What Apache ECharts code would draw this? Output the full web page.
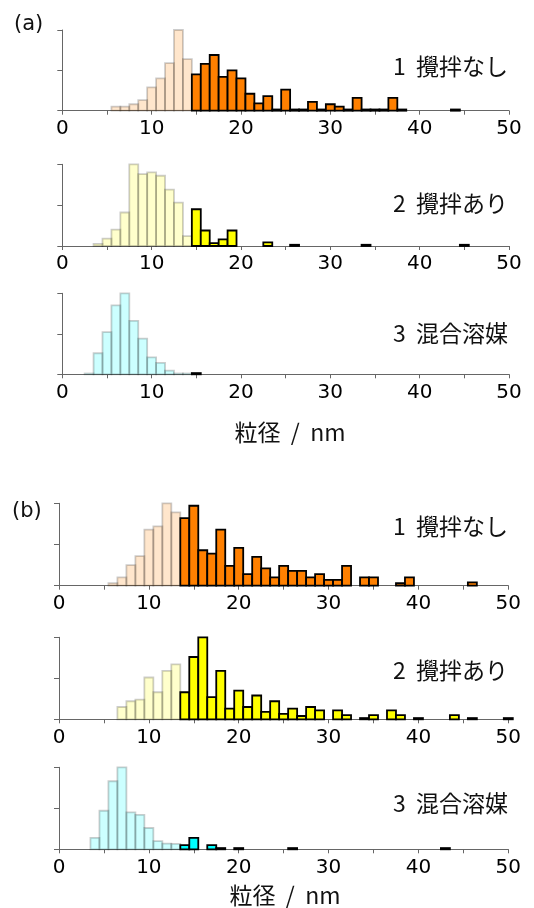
<!DOCTYPE html>
<html>
<head>
<meta charset="utf-8">
<script src="https://cdn.jsdelivr.net/npm/echarts@6/dist/echarts.min.js"></script>
<style>
  html, body { margin: 0; padding: 0; background: #fff; }
  #main { width: 534px; height: 908px; }
</style>
</head>
<body>
<div id="main"></div>
<script>
// particle size bins (nm) and relative frequency (peak = 100)
const sizesA1 = [6,7,8,9,10,11,12,13,14,15,16,17,18,19,20,21,22,23,24,25,26,27,28,29,30,31,32,33,34,35,36,37,38,44]
const freqA1  = [5,5,8,13,29,40,59,100,64,45,58,69,42,50,40,21,9,18,1.5,26,1.5,1.5,11,1.5,8,5,1.5,16,1.5,1.5,1.5,16,1.5,1.5]

const sizesA2 = [4,5,6,7,8,9,10,11,12,13,14,15,16,17,18,19,23,26,34,45]
const freqA2  = [2.5,9,20,41,100,88,90,86,69,53,12,45,19,3.5,8,19,4.5,1.5,1.5,1.5]

const sizesA3 = [3,4,5,6,7,8,9,10,11,12,13,14,15]
const freqA3  = [1,26,52,85,100,66,44,21,14,4.5,1,1,1.5]

const sizesB1 = [6,7,8,9,10,11,12,13,14,15,16,17,18,19,20,21,22,23,24,25,26,27,28,29,30,31,32,34,35,38,39,46]
const freqB1  = [3,10,25,36,68,72,100,89,82,97,43,39,68,24,46,14,35,21,10,24,18,18,10,14,7,7,24,10,10,3,10,4]

const sizesB2 = [7,8,9,10,11,12,13,14,15,16,17,18,19,20,21,22,23,24,25,26,27,28,29,31,32,34,35,37,38,40,44,46,50]
const freqB2  = [15,22,24,51,33,59,67,33,76,100,27,59,13,35,15,29,9,22,6.5,13,4,15,11,11,5,1.5,5,11,5,1.5,5,1.5,1.5]

const sizesB3 = [4,5,6,7,8,9,10,11,12,13,14,15,17,18,20,26,43]
const freqB3  = [14,47,83,100,45,42,26,10,7,6.5,5,14,5,1.5,1.5,1.5,1.5]

const sampleNames = ['1  攪拌なし', '2  攪拌あり', '3  混合溶媒']
const tickValues = [0, 10, 20, 30, 40, 50]
const axisTitle = '粒径  /  nm'

// first size drawn in full colour: (a) from 15 nm, (b) from 14 nm
const cutA = 15
const cutB = 14

const colors = ['#ff8000', '#ffff00', '#00ffff']

const panels = [
    { sizes: sizesA1, freq: freqA1, cut: cutA, color: colors[0], name: sampleNames[0], left: 62.3, right: 509, top: 30, bottom: 110.7 },
    { sizes: sizesA2, freq: freqA2, cut: cutA, color: colors[1], name: sampleNames[1], left: 62.3, right: 509, top: 164.3, bottom: 246 },
    { sizes: sizesA3, freq: freqA3, cut: cutA, color: colors[2], name: sampleNames[2], left: 62.3, right: 509, top: 293.3, bottom: 374.3 },
    { sizes: sizesB1, freq: freqB1, cut: cutB, color: colors[0], name: sampleNames[0], left: 59, right: 508.3, top: 503.3, bottom: 585.7 },
    { sizes: sizesB2, freq: freqB2, cut: cutB, color: colors[1], name: sampleNames[1], left: 59, right: 508.3, top: 637.3, bottom: 719.3 },
    { sizes: sizesB3, freq: freqB3, cut: cutB, color: colors[2], name: sampleNames[2], left: 59, right: 508.3, top: 767.3, bottom: 849.3 }
]
const labelY = [66.7, 203.3, 333.3, 526.7, 670, 803.3]

const axisGrey = '#666'
const latin = 'DejaVu Sans'
const cjk = '"Noto Sans CJK JP", sans-serif'

// one histogram bin = rect from size-0.5 to size+0.5
function binRenderer(fill, faded) {
    return function (params, api) {
        var s = api.value(0), v = api.value(1)
        var p0 = api.coord([s - 0.5, 0])
        var p1 = api.coord([s + 0.5, v])
        return {
            type: 'rect',
            shape: { x: p0[0], y: p1[1], width: p1[0] - p0[0], height: p0[1] - p1[1] },
            style: faded
                ? { fill: fill, stroke: '#000', lineWidth: 1.8, opacity: 0.2 }
                : { fill: fill, stroke: '#000', lineWidth: 1.8 }
        }
    }
}

var grid = [], xAxis = [], yAxis = [], series = [], graphic = []

panels.forEach(function (p, i) {
    grid.push({ left: p.left, width: p.right - p.left, top: p.top, height: p.bottom - p.top })
    xAxis.push({
        gridIndex: i, type: 'value', min: 0, max: 50, interval: 5,
        axisLine: { show: true, onZero: false, lineStyle: { color: axisGrey, width: 1 } },
        axisTick: { show: true, length: 4, lineStyle: { color: axisGrey } },
        axisLabel: {
            margin: 8, fontSize: 20, fontFamily: latin, color: '#000',
            formatter: function (v) { return tickValues.indexOf(v) >= 0 ? String(v) : '' }
        },
        splitLine: { show: false }
    })
    yAxis.push({
        gridIndex: i, type: 'value', min: 0, max: 100, interval: 50,
        axisLine: { show: true, lineStyle: { color: axisGrey, width: 1 } },
        axisTick: { show: true, length: 5, lineStyle: { color: axisGrey } },
        axisLabel: { show: false },
        splitLine: { show: false }
    })
    var light = [], dark = []
    p.sizes.forEach(function (s, k) {
        if (s < p.cut) light.push([s, p.freq[k]])
        else dark.push([s, p.freq[k]])
    })
    series.push({
        type: 'custom', coordinateSystem: 'cartesian2d', xAxisIndex: i, yAxisIndex: i,
        data: light, encode: { x: 0, y: 1 }, silent: true, clip: false,
        renderItem: binRenderer(p.color, true)
    })
    series.push({
        type: 'custom', coordinateSystem: 'cartesian2d', xAxisIndex: i, yAxisIndex: i,
        data: dark, encode: { x: 0, y: 1 }, silent: true, clip: false,
        renderItem: binRenderer(p.color, false)
    })
    graphic.push({
        type: 'text', x: 508, y: labelY[i],
        style: { text: p.name, font: '23px ' + cjk, fill: '#111', textAlign: 'right', textVerticalAlign: 'middle' }
    })
})

// panel labels (a)/(b) and axis titles
graphic.push({ type: 'text', x: 14, y: 25, style: { text: '(a)', font: '21px ' + latin, fill: '#111', textVerticalAlign: 'middle' } })
graphic.push({ type: 'text', x: 12, y: 512, style: { text: '(b)', font: '21px ' + latin, fill: '#111', textVerticalAlign: 'middle' } })
graphic.push({ type: 'text', x: 290, y: 432, style: { text: axisTitle, font: '23px ' + cjk, fill: '#111', textAlign: 'center', textVerticalAlign: 'middle' } })
graphic.push({ type: 'text', x: 285, y: 895, style: { text: axisTitle, font: '23px ' + cjk, fill: '#111', textAlign: 'center', textVerticalAlign: 'middle' } })

var chart = echarts.init(document.getElementById('main'), null, { renderer: 'canvas' })
chart.setOption({
    animation: false,
    backgroundColor: '#fff',
    grid: grid,
    xAxis: xAxis,
    yAxis: yAxis,
    series: series,
    graphic: graphic
})
</script>
</body>
</html>
